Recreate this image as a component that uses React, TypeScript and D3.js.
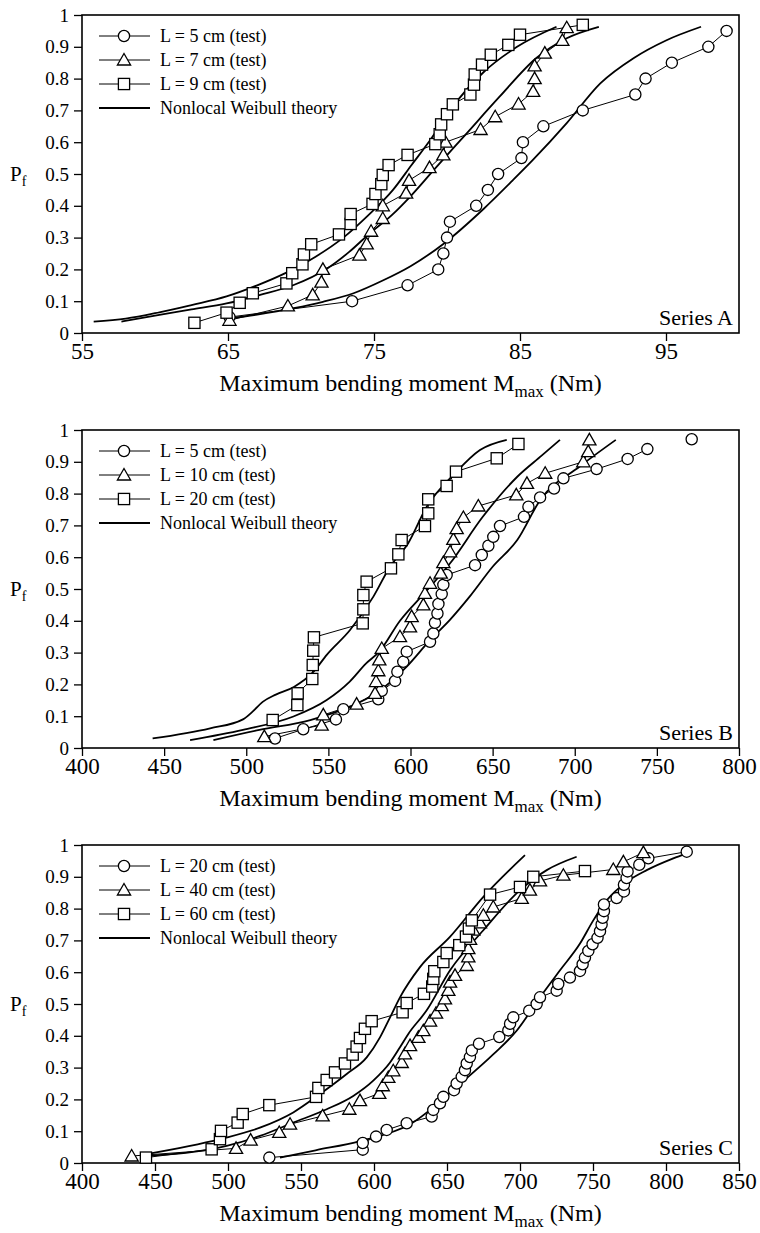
import React, { useEffect, useRef } from 'react';
import * as d3 from 'd3';

// shared y ticks
const yTicks = [0, 0.1, 0.2, 0.3, 0.4, 0.5, 0.6, 0.7, 0.8, 0.9, 1];

// ---- Series A ----
const ticksA = [55, 65, 75, 85, 95];
const a5x = [65.1, 73.5, 77.3, 79.4, 79.75, 80.0, 80.2, 82.0, 82.8, 83.5, 85.1, 85.2, 86.6, 89.3, 92.9, 93.6, 95.4, 97.9, 99.15];
const a5p = [0.05, 0.1, 0.15, 0.2, 0.25, 0.3, 0.35, 0.4, 0.45, 0.5, 0.55, 0.6, 0.65, 0.7, 0.75, 0.8, 0.85, 0.9, 0.95];
const a7x = [65.1, 69.1, 70.8, 71.4, 71.5, 74.0, 74.5, 74.8, 75.6, 75.6, 77.2, 77.4, 78.8, 79.75, 79.9, 82.3, 83.3, 84.9, 85.9, 86.0, 86.0, 86.7, 87.9, 88.2];
const a7p = [0.04, 0.085, 0.12, 0.16, 0.2, 0.245, 0.28, 0.32, 0.36, 0.4, 0.44, 0.48, 0.52, 0.56, 0.6, 0.64, 0.68, 0.72, 0.76, 0.8, 0.84, 0.88, 0.92, 0.96];
const a9x = [62.7, 64.9, 65.8, 66.7, 69.0, 69.4, 70.1, 70.2, 70.7, 72.6, 73.4, 73.4, 74.9, 75.1, 75.5, 75.6, 76.0, 77.3, 79.2, 79.5, 79.6, 80.0, 80.4, 81.6, 81.85, 81.9, 82.4, 83.0, 84.2, 85.0, 89.3];
const a9p = [0.032, 0.064, 0.095, 0.125, 0.156, 0.188, 0.216, 0.247, 0.279, 0.31, 0.343, 0.374, 0.406, 0.437, 0.468, 0.497, 0.528, 0.56, 0.594, 0.625, 0.656, 0.688, 0.719, 0.75, 0.781, 0.813, 0.844, 0.875, 0.906, 0.938, 0.969];
const tA9x = [55.8, 58, 60.3, 62.5, 64.9, 67, 69, 71, 72.9, 74.6, 76.3, 77.6, 78.9, 80.2, 82.5, 84.8, 87.5];
const tA9p = [0.036, 0.045, 0.065, 0.088, 0.115, 0.15, 0.19, 0.24, 0.3, 0.37, 0.45, 0.53, 0.61, 0.7, 0.82, 0.9, 0.963];
const tA7x = [57.7, 60.3, 62.5, 64.9, 67.2, 69.5, 71.8, 73.3, 74.7, 76.2, 77.5, 79.1, 81.35, 83.6, 86.1, 88.2, 90.4];
const tA7p = [0.036, 0.057, 0.074, 0.093, 0.12, 0.151, 0.203, 0.255, 0.313, 0.37, 0.43, 0.513, 0.628, 0.743, 0.864, 0.927, 0.963];
const tA5x = [65, 67, 69.5, 71.5, 73.6, 75.6, 77.5, 79.75, 82.5, 84.5, 85.9, 88.2, 90.5, 92.8, 95, 97.4];
const tA5p = [0.045, 0.058, 0.078, 0.098, 0.125, 0.165, 0.21, 0.28, 0.39, 0.48, 0.545, 0.66, 0.785, 0.865, 0.92, 0.963];

// ---- Series B ----
const ticksB = [400, 450, 500, 550, 600, 650, 700, 750, 800];
const b5x = [517.5, 534.7, 554.6, 559.1, 580.4, 582.5, 590.6, 592.0, 595.6, 597.7, 611.9, 613.9, 614.9, 616.4, 617.0, 619.0, 620.0, 622.0, 639.3, 643.4, 647.4, 650.4, 654.5, 669.1, 671.8, 678.9, 687.4, 693.1, 713.3, 732.2, 744.2, 771.2];
const b5p = [0.03, 0.059, 0.09, 0.122, 0.153, 0.18, 0.211, 0.24, 0.271, 0.303, 0.334, 0.36, 0.394, 0.423, 0.453, 0.484, 0.513, 0.544, 0.575, 0.607, 0.636, 0.664, 0.698, 0.727, 0.759, 0.788, 0.816, 0.848, 0.877, 0.909, 0.94, 0.971];
const b5Joined = 31; // last point stands alone
const b10x = [511, 545.9, 546.9, 567.2, 578.4, 579, 580.4, 581, 582.5, 593.6, 599.7, 600.7, 607.8, 608.8, 611.9, 618.4, 620, 624.1, 626.1, 628.1, 632.2, 641.3, 664.4, 670.9, 682, 705.2, 708.2, 708.9];
const b10p = [0.036, 0.072, 0.104, 0.138, 0.172, 0.209, 0.243, 0.277, 0.313, 0.35, 0.381, 0.413, 0.45, 0.486, 0.518, 0.55, 0.583, 0.617, 0.656, 0.69, 0.725, 0.761, 0.796, 0.832, 0.864, 0.9, 0.932, 0.969];
const b20x = [516.1, 531.1, 531.3, 540.2, 540.5, 540.8, 541.2, 570.9, 571.3, 571.3, 573.3, 588.1, 592.6, 594.6, 608.8, 610.8, 610.8, 622, 627.7, 652.5, 665.7];
const b20p = [0.088, 0.135, 0.172, 0.217, 0.261, 0.306, 0.348, 0.392, 0.436, 0.481, 0.523, 0.565, 0.609, 0.654, 0.698, 0.738, 0.782, 0.824, 0.869, 0.911, 0.956];
const tB20x = [443, 478, 498, 504, 510, 518, 529, 541, 549, 563.2, 577.4, 587.5, 598.6, 609.9, 627.1, 642.3, 658.6];
const tB20p = [0.03, 0.062, 0.09, 0.115, 0.145, 0.168, 0.192, 0.24, 0.293, 0.371, 0.476, 0.57, 0.644, 0.759, 0.864, 0.937, 0.969];
const tB10x = [465.8, 498, 528.7, 549, 563, 573, 581, 593.6, 609, 624, 644, 665, 680, 691];
const tB10p = [0.025, 0.057, 0.099, 0.151, 0.209, 0.266, 0.303, 0.4, 0.49, 0.58, 0.727, 0.853, 0.92, 0.969];
const tB5x = [480, 508, 539, 563, 579, 597.7, 612, 624, 636, 650, 665, 679, 703, 725];
const tB5p = [0.025, 0.057, 0.088, 0.13, 0.172, 0.256, 0.34, 0.403, 0.476, 0.57, 0.654, 0.78, 0.885, 0.969];

// ---- Series C ----
const ticksC = [400, 450, 500, 550, 600, 650, 700, 750, 800, 850];
const c20x = [528.3, 592.3, 592.3, 601.4, 608.7, 622.4, 639.5, 640.6, 645.2, 647.5, 654.8, 656.6, 660.1, 662.3, 663.5, 665.7, 667.0, 671.9, 685.8, 692.0, 693.2, 695.4, 706.3, 711.4, 713.7, 725.1, 726.2, 734.2, 741.1, 742.9, 744.5, 746.8, 749.7, 753.1, 754.8, 755.9, 756.6, 757.5, 757.5, 766.2, 771.2, 771.2, 773.0, 773.7, 781.7, 787.9, 814.2];
const c20p = [0.017, 0.042, 0.063, 0.083, 0.104, 0.125, 0.146, 0.167, 0.188, 0.208, 0.229, 0.25, 0.271, 0.292, 0.313, 0.333, 0.354, 0.375, 0.396, 0.417, 0.438, 0.458, 0.479, 0.5, 0.521, 0.542, 0.563, 0.583, 0.604, 0.625, 0.646, 0.667, 0.688, 0.708, 0.729, 0.75, 0.771, 0.792, 0.813, 0.833, 0.854, 0.875, 0.896, 0.917, 0.938, 0.958, 0.979];
const c40x = [434, 505.5, 515.5, 535.1, 542.5, 564.8, 583.1, 590.4, 603.6, 606, 609.8, 613.2, 619, 621.2, 624.7, 630.4, 633.8, 638.4, 642.5, 646.4, 648.6, 650.9, 652.1, 655.5, 663.5, 664.6, 664.6, 665.8, 668, 672.6, 674.9, 681.7, 701.2, 706.8, 713.7, 729.7, 763.9, 770.8, 784.5];
const c40p = [0.022, 0.046, 0.072, 0.096, 0.122, 0.148, 0.169, 0.196, 0.219, 0.243, 0.269, 0.29, 0.316, 0.343, 0.369, 0.395, 0.416, 0.446, 0.471, 0.495, 0.516, 0.543, 0.569, 0.59, 0.621, 0.648, 0.674, 0.703, 0.732, 0.755, 0.779, 0.805, 0.832, 0.858, 0.887, 0.905, 0.923, 0.947, 0.976];
const c60x = [443.8, 488.8, 494.5, 495.2, 506.6, 510.1, 528.3, 560.3, 561.9, 567.6, 573.3, 580.1, 585.4, 588.1, 590.4, 593.8, 598.4, 619.6, 622.4, 634.2, 639.9, 640.6, 641.3, 647.5, 649.8, 658.4, 663, 665, 667, 679.5, 700, 709.1, 744.5];
const c60p = [0.017, 0.043, 0.075, 0.101, 0.127, 0.154, 0.182, 0.208, 0.236, 0.261, 0.285, 0.313, 0.341, 0.366, 0.393, 0.422, 0.446, 0.474, 0.503, 0.532, 0.555, 0.579, 0.603, 0.632, 0.66, 0.685, 0.712, 0.737, 0.763, 0.844, 0.868, 0.9, 0.918];
const tC60x = [443.2, 494.5, 521.9, 544.7, 563, 581.3, 595, 604.1, 611, 617.8, 631.5, 652, 674.9, 703.4];
const tC60p = [0.027, 0.075, 0.111, 0.159, 0.217, 0.28, 0.332, 0.395, 0.458, 0.521, 0.616, 0.711, 0.837, 0.968];
const tC40x = [443.2, 499.1, 521.9, 544.7, 567.6, 585.8, 599.5, 611, 617.8, 623.5, 636.1, 652.1, 674.9, 700, 718.3, 738.8];
const tC40p = [0.022, 0.054, 0.085, 0.127, 0.169, 0.211, 0.259, 0.316, 0.364, 0.406, 0.48, 0.606, 0.732, 0.858, 0.921, 0.963];
const tC20x = [535.6, 560, 590.4, 624.7, 660, 682, 697.7, 713.7, 727.4, 741.1, 750.2, 759.4, 773, 786.8, 805, 814.2];
const tC20p = [0.017, 0.04, 0.069, 0.122, 0.253, 0.343, 0.416, 0.521, 0.606, 0.69, 0.763, 0.826, 0.884, 0.921, 0.958, 0.974];

type Shape = 'circle' | 'triangle' | 'square';
type Series = { label: string; shape: Shape; x: number[]; p: number[]; joined?: number };
type Panel = {
  name: string;
  top: number;
  domain: [number, number];
  ticks: number[];
  series: Series[];
  theory: { x: number[]; p: number[] }[];
};

const panels: Panel[] = [
  {
    name: 'Series A', top: 15, domain: [55, 100], ticks: ticksA,
    series: [
      { label: 'L = 5 cm (test)', shape: 'circle', x: a5x, p: a5p },
      { label: 'L = 7 cm (test)', shape: 'triangle', x: a7x, p: a7p },
      { label: 'L = 9 cm (test)', shape: 'square', x: a9x, p: a9p },
    ],
    theory: [{ x: tA5x, p: tA5p }, { x: tA7x, p: tA7p }, { x: tA9x, p: tA9p }],
  },
  {
    name: 'Series B', top: 430, domain: [400, 800], ticks: ticksB,
    series: [
      { label: 'L = 5 cm (test)', shape: 'circle', x: b5x, p: b5p, joined: b5Joined },
      { label: 'L = 10 cm (test)', shape: 'triangle', x: b10x, p: b10p },
      { label: 'L = 20 cm (test)', shape: 'square', x: b20x, p: b20p },
    ],
    theory: [{ x: tB5x, p: tB5p }, { x: tB10x, p: tB10p }, { x: tB20x, p: tB20p }],
  },
  {
    name: 'Series C', top: 845, domain: [400, 850], ticks: ticksC,
    series: [
      { label: 'L = 20 cm (test)', shape: 'circle', x: c20x, p: c20p },
      { label: 'L = 40 cm (test)', shape: 'triangle', x: c40x, p: c40p },
      { label: 'L = 60 cm (test)', shape: 'square', x: c60x, p: c60p },
    ],
    theory: [{ x: tC20x, p: tC20p }, { x: tC40x, p: tC40p }, { x: tC60x, p: tC60p }],
  },
];

const FONT = "'Liberation Serif', 'Times New Roman', Times, serif";

function marker(g: d3.Selection<SVGGElement, unknown, null, undefined>, shape: Shape, cx: number, cy: number) {
  if (shape === 'circle') {
    g.append('circle').attr('cx', cx).attr('cy', cy).attr('r', 5.6)
      .attr('fill', '#fff').attr('stroke', '#000').attr('stroke-width', 1.3);
  } else if (shape === 'square') {
    g.append('rect').attr('x', cx - 5.6).attr('y', cy - 5.6).attr('width', 11.2).attr('height', 11.2)
      .attr('fill', '#fff').attr('stroke', '#000').attr('stroke-width', 1.3);
  } else {
    g.append('path').attr('d', `M${cx},${cy - 6.5}L${cx + 6.6},${cy + 5}L${cx - 6.6},${cy + 5}Z`)
      .attr('fill', '#fff').attr('stroke', '#000').attr('stroke-width', 1.3);
  }
}

const WeibullFigure: React.FC = () => {
  const ref = useRef<SVGSVGElement | null>(null);

  useEffect(() => {
    if (!ref.current) return;
    const svg = d3.select(ref.current);
    svg.selectAll('*').remove();

    const margin = { left: 82, right: 21 };
    const width = 760 - margin.left - margin.right;
    const height = 318;

    panels.forEach(panel => {
      const g = svg.append('g').attr('transform', `translate(${margin.left},${panel.top})`)
        .style('font-family', FONT);
      const x = d3.scaleLinear().domain(panel.domain).range([0, width]);
      const y = d3.scaleLinear().domain([0, 1]).range([height, 0]);

      const yAxis = g.append('g')
        .call(d3.axisLeft(y).tickValues(yTicks).tickSize(8).tickPadding(5)
          .tickFormat(d => (+d === 0 ? '0' : +d === 1 ? '1' : d3.format('.1f')(+d))));
      yAxis.attr('font-family', null);
      yAxis.select('.domain').remove();
      yAxis.selectAll('line').attr('stroke-width', 1.3);
      yAxis.selectAll('text').style('font-family', FONT).attr('font-size', 19).attr('fill', '#000');

      const xAxis = g.append('g').attr('transform', `translate(0,${height})`)
        .call(d3.axisBottom(x).tickValues(panel.ticks).tickSize(8).tickPadding(2).tickFormat(d3.format('d')));
      xAxis.attr('font-family', null);
      xAxis.select('.domain').remove();
      xAxis.selectAll('line').attr('stroke-width', 1.3);
      xAxis.selectAll('text').style('font-family', FONT).attr('font-size', 23).attr('fill', '#000');

      g.append('rect').attr('width', width).attr('height', height)
        .attr('fill', 'none').attr('stroke', '#000').attr('stroke-width', 1.6);

      const smooth = d3.line<[number, number]>()
        .x(d => x(d[0])).y(d => y(d[1])).curve(d3.curveMonotoneX);
      panel.theory.forEach(t => {
        g.append('path')
          .attr('d', smooth(t.x.map((v, i) => [v, t.p[i]] as [number, number])))
          .attr('fill', 'none').attr('stroke', '#000').attr('stroke-width', 1.8);
      });

      const straight = d3.line<[number, number]>().x(d => x(d[0])).y(d => y(d[1]));
      panel.series.forEach(s => {
        const pts = s.x.map((v, i) => [v, s.p[i]] as [number, number]);
        g.append('path')
          .attr('d', straight(pts.slice(0, s.joined ?? pts.length)))
          .attr('fill', 'none').attr('stroke', '#000').attr('stroke-width', 1);
      });
      panel.series.forEach(s => {
        const mg = g.append('g');
        s.x.forEach((v, i) => marker(mg, s.shape, x(v), y(s.p[i])));
      });

      // legend
      const leg = g.append('g');
      panel.series.forEach((s, i) => {
        const ly = 21 + i * 24;
        leg.append('line').attr('x1', 17).attr('x2', 68).attr('y1', ly).attr('y2', ly)
          .attr('stroke', '#000').attr('stroke-width', 1);
        marker(leg, s.shape, 42, ly);
        leg.append('text').attr('x', 78).attr('y', ly).attr('dy', '0.35em')
          .attr('font-size', 18).text(s.label);
      });
      const ty = 21 + panel.series.length * 24;
      leg.append('line').attr('x1', 17).attr('x2', 68).attr('y1', ty).attr('y2', ty)
        .attr('stroke', '#000').attr('stroke-width', 1.8);
      leg.append('text').attr('x', 78).attr('y', ty).attr('dy', '0.35em')
        .attr('font-size', 18).text('Nonlocal Weibull theory');

      g.append('text').attr('x', width - 6).attr('y', height - 8).attr('text-anchor', 'end')
        .attr('font-size', 22).text(panel.name);

      const pf = g.append('text').attr('x', -72).attr('y', y(0.5) + 7).attr('font-size', 21);
      pf.append('tspan').text('P');
      pf.append('tspan').attr('font-size', 14).attr('dy', 5).text('f');

      const title = g.append('text').attr('x', width / 2).attr('y', height + 58)
        .attr('text-anchor', 'middle').attr('font-size', 24);
      title.append('tspan').text('Maximum bending moment M');
      title.append('tspan').attr('font-size', 17).attr('dy', 6).text('max');
      title.append('tspan').attr('dy', -6).text(' (Nm)');
    });
  }, []);

  return (
    <svg ref={ref} width={760} height={1233}
      style={{ position: 'absolute', left: 0, top: 0, background: '#fff' }} />
  );
};

export default function App() {
  return <WeibullFigure />;
}
